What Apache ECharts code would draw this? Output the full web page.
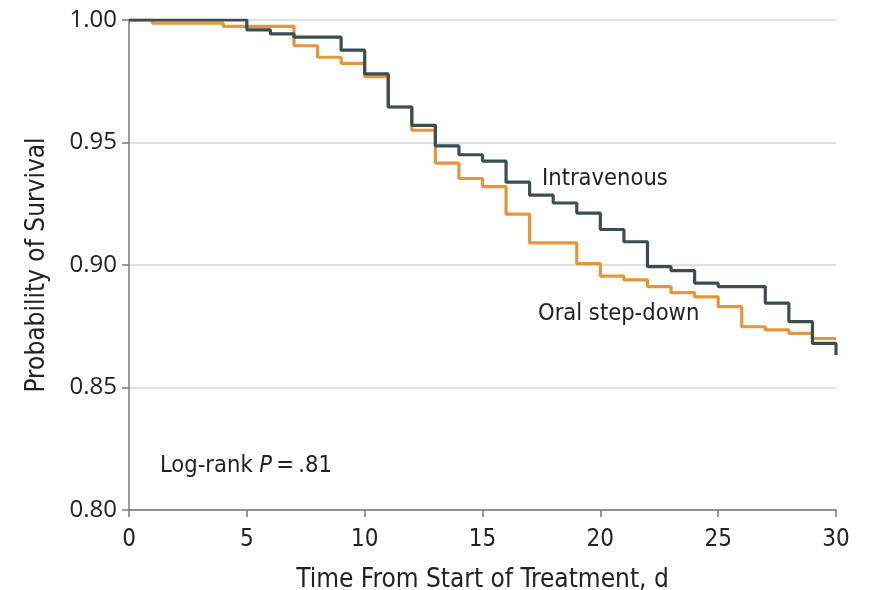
<!DOCTYPE html>
<html>
<head>
<meta charset="utf-8">
<script src="https://cdn.jsdelivr.net/npm/echarts@6/dist/echarts.min.js"></script>
<style>
  html, body { margin: 0; padding: 0; background: #fff; }
  #chart { width: 876px; height: 590px; }
</style>
</head>
<body>
<div id="chart"></div>
<script>
// Kaplan-Meier survival estimates: each value holds from its day until the next step
const ivDays   = [0, 5, 6, 7, 9, 10, 11, 12, 13, 14, 15, 16, 17, 18, 19, 20, 21, 22, 23, 24, 25, 27, 28, 29, 30];
const ivSurv   = [1.000, 0.996, 0.9943, 0.993, 0.9877, 0.978, 0.9645, 0.957, 0.9486, 0.945, 0.9424, 0.9338, 0.9285, 0.9253, 0.9212, 0.9145, 0.9095, 0.8993, 0.8977, 0.8926, 0.8912, 0.8844, 0.8769, 0.868, 0.8633];

const oralDays = [0, 1, 4, 7, 8, 9, 10, 11, 12, 13, 14, 15, 16, 17, 19, 20, 21, 22, 23, 24, 25, 26, 27, 28, 29, 30];
const oralSurv = [1.000, 0.9987, 0.9974, 0.9895, 0.9848, 0.9823, 0.9769, 0.9645, 0.955, 0.9416, 0.9353, 0.932, 0.9208, 0.909, 0.9006, 0.8955, 0.8939, 0.8912, 0.8887, 0.887, 0.883, 0.8748, 0.8735, 0.8721, 0.870, 0.870];

const xTicks = [0, 5, 10, 15, 20, 25, 30];

const toPairs = (xs, ys) => xs.map((x, i) => [x, ys[i]]);

const condensed = '"Liberation Sans Narrow", "DejaVu Sans Condensed", "Roboto Condensed", sans-serif';

const chart = echarts.init(document.getElementById('chart'));
chart.setOption({
  animation: false,
  backgroundColor: '#ffffff',
  grid: { left: 129, right: 40, top: 20, bottom: 80, containLabel: false, outerBoundsMode: 'none' },
  xAxis: {
    type: 'value',
    min: 0, max: 30, interval: 5,
    name: 'Time From Start of Treatment, d',
    nameLocation: 'middle',
    nameGap: 57,
    nameTextStyle: { fontFamily: condensed, fontSize: 26, color: '#222' },
    axisLine: { lineStyle: { color: '#7a7a7a', width: 1.5 } },
    axisTick: { show: true, length: 7, lineStyle: { color: '#7a7a7a', width: 1.5 } },
    axisLabel: { fontFamily: condensed, fontSize: 24, color: '#222', margin: 18,
                 customValues: xTicks },
    splitLine: { show: false }
  },
  yAxis: {
    type: 'value',
    min: 0.80, max: 1.00, interval: 0.05,
    name: 'Probability of Survival',
    nameLocation: 'middle',
    nameGap: 79,
    nameRotate: 90,
    nameTextStyle: { fontFamily: condensed, fontSize: 26, color: '#222' },
    axisLine: { show: true, lineStyle: { color: '#7a7a7a', width: 1.5 } },
    axisTick: { show: true, length: 7, lineStyle: { color: '#7a7a7a', width: 1.5 } },
    axisLabel: { fontFamily: '"Open Sans", "Noto Sans", sans-serif', fontSize: 24, color: '#222', margin: 12,
                 formatter: v => v.toFixed(2) },
    splitLine: { show: true, lineStyle: { color: '#d4d4d4', width: 1.5 } }
  },
  series: [
    {
      name: 'Oral step-down',
      type: 'line',
      step: 'end',
      symbol: 'none',
      data: toPairs(oralDays, oralSurv),
      lineStyle: { color: '#e8953a', width: 3.2 },
      z: 2
    },
    {
      name: 'Intravenous',
      type: 'line',
      step: 'end',
      symbol: 'none',
      data: toPairs(ivDays, ivSurv),
      lineStyle: { color: '#3a4e52', width: 3.2 },
      z: 3
    }
  ],
  graphic: [
    { type: 'text', left: 542, top: 167,
      style: { text: 'Intravenous', font: '23.5px ' + condensed, fill: '#222' } },
    { type: 'text', left: 538, top: 302,
      style: { text: 'Oral step-down', font: '23.5px ' + condensed, fill: '#222' } },
    { type: 'text', left: 160, top: 454,
      style: {
        text: '{n|Log-rank }{i|P}{n|\u2009=\u2009.81}',
        rich: {
          n: { fontFamily: condensed, fontSize: 23.5, fill: '#222' },
          i: { fontFamily: condensed, fontSize: 23.5, fontStyle: 'italic', fill: '#222' }
        }
      } }
  ]
});
</script>
</body>
</html>
